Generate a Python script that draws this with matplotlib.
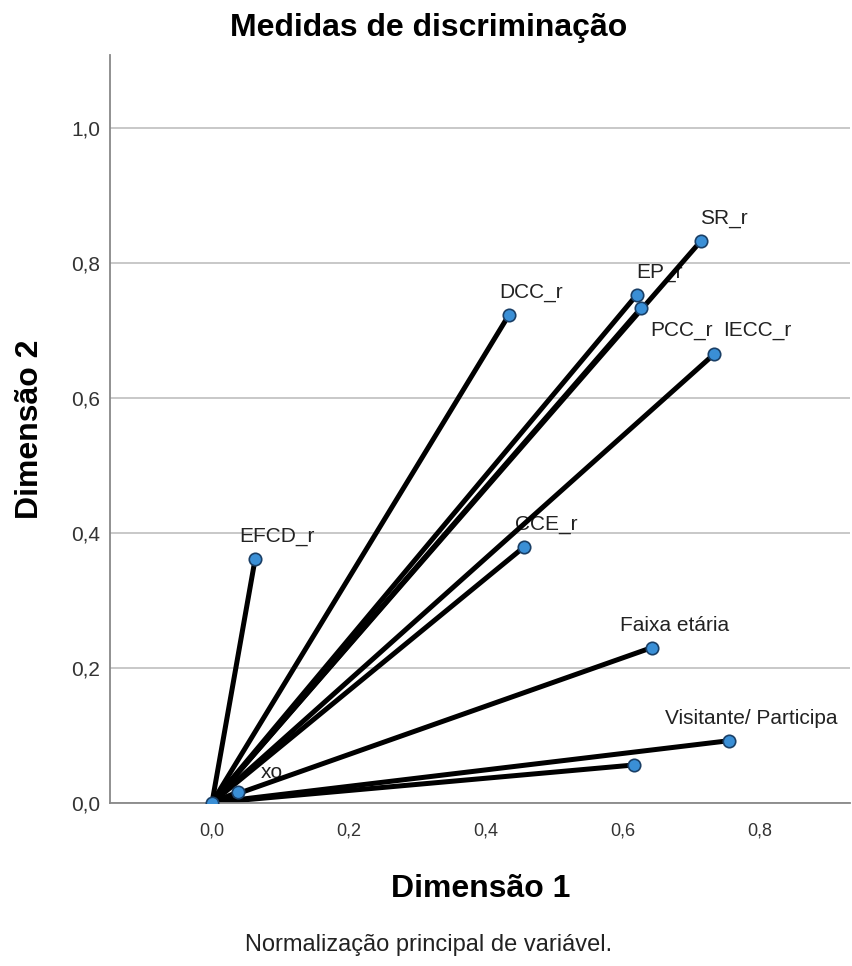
import matplotlib.pyplot as plt
import matplotlib.ticker as mticker

plt.rcParams['font.family'] = ['Liberation Sans', 'DejaVu Sans']

# discrimination measures (Dimensão 1, Dimensão 2)
variables = ['SR_r', 'EP_r', 'PCC_r', 'IECC_r', 'DCC_r', 'CCE_r', 'EFCD_r',
             'Faixa etária', 'Visitante/ Participa', '', 'xo', '']
dim1 = [0.715, 0.621, 0.627, 0.734, 0.434, 0.456, 0.063, 0.643, 0.756, 0.617, 0.038, 0.0]
dim2 = [0.833, 0.753, 0.733, 0.665, 0.723, 0.379, 0.361, 0.230, 0.092, 0.056, 0.016, 0.0]

x_ticks = [0.0, 0.2, 0.4, 0.6, 0.8]
y_ticks = [0.0, 0.2, 0.4, 0.6, 0.8, 1.0]

# label offsets in points (SPSS puts most labels above and right)
default_offset = (16, 16)
special_offset = {'PCC_r': (29, -16), 'IECC_r': (31, 17), 'xo': (24, 14)}

fig = plt.figure(figsize=(8.53, 9.66), dpi=100)
ax = fig.add_axes([0.129, 0.169, 0.868, 0.774])

for t in y_ticks:
    ax.axhline(t, color='#c4c4c4', linewidth=1.3, zorder=0)

for x, y in zip(dim1, dim2):
    ax.plot([0, x], [0, y], color='black', linewidth=3.6, solid_capstyle='round', zorder=2)

ax.scatter(dim1, dim2, s=80, color='#3a8fd6', edgecolor='#1a3f66', linewidth=1.2, zorder=3)

for name, x, y in zip(variables, dim1, dim2):
    if not name:
        continue
    off = special_offset.get(name, default_offset)
    ax.annotate(name, (x, y), xytext=off, textcoords='offset points',
                ha='center', va='center', fontsize=15, color='#222222', zorder=1)

ax.set_xlim(-0.149, 0.933)
ax.set_ylim(0, 1.108)
ax.set_xticks(x_ticks)
ax.set_yticks(y_ticks)
fmt = mticker.FuncFormatter(lambda v, p: f'{v:.1f}'.replace('.', ','))
ax.xaxis.set_major_formatter(fmt)
ax.yaxis.set_major_formatter(fmt)
ax.tick_params(axis='x', length=0, labelsize=13, colors='#333333', pad=14)
ax.tick_params(axis='y', length=0, labelsize=15, colors='#333333', pad=7)

for s in ['top', 'right']:
    ax.spines[s].set_visible(False)
for s in ['left', 'bottom']:
    ax.spines[s].set_color('#888888')
    ax.spines[s].set_linewidth(1.3)

fig.text(0.502, 0.971, 'Medidas de discriminação', ha='center', va='center',
         fontsize=23, fontweight='bold')
ax.set_xlabel('Dimensão 1', fontsize=23, fontweight='bold', labelpad=25)
ax.set_ylabel('Dimensão 2', fontsize=23, fontweight='bold', labelpad=19)

fig.text(0.502, 0.022, 'Normalização principal de variável.', ha='center', va='center',
         fontsize=17, color='#222222')

fig.savefig('out.png', dpi=100)
